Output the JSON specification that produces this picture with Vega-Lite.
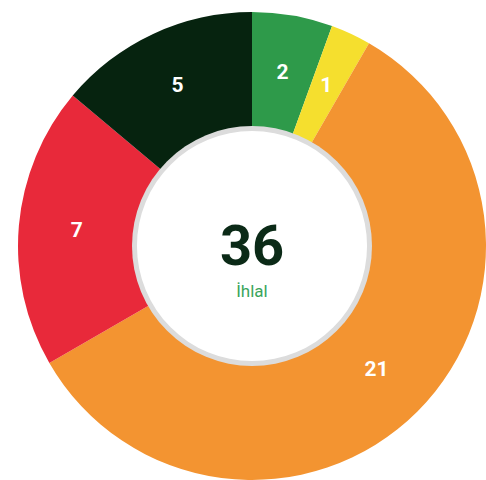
{
  "$schema": "https://vega.github.io/schema/vega-lite/v6.json",
  "width": 486,
  "height": 480,
  "autosize": {"type": "fit", "contains": "padding"},
  "padding": {"left": 18, "right": 0, "top": 12, "bottom": 0},
  "background": "white",
  "view": {"stroke": null},
  "layer": [
    {
      "data": {"values": [
        {"idx": 1, "cat": "A", "value": 2},
        {"idx": 2, "cat": "B", "value": 1},
        {"idx": 3, "cat": "C", "value": 21},
        {"idx": 4, "cat": "D", "value": 7},
        {"idx": 5, "cat": "E", "value": 5}
      ]},
      "encoding": {
        "theta": {"field": "value", "type": "quantitative", "stack": true},
        "order": {"field": "idx", "type": "quantitative"}
      },
      "layer": [
        {
          "mark": {"type": "arc", "outerRadius": 234, "innerRadius": 110},
          "encoding": {
            "color": {"field": "cat", "type": "nominal", "legend": null,
              "scale": {"domain": ["A", "B", "C", "D", "E"], "range": ["#2e9a4a", "#f5df2e", "#f39431", "#e8293a", "#06230f"]}}
          }
        },
        {
          "mark": {"type": "text", "radius": 176, "font": "Roboto", "fontWeight": "bold", "fontSize": 21, "fill": "white"},
          "encoding": {"text": {"field": "value", "type": "quantitative"}}
        }
      ]
    },
    {
      "data": {"values": [{"ring": 1}]},
      "encoding": {"theta": {"field": "ring", "type": "quantitative"}},
      "layer": [
        {"mark": {"type": "arc", "outerRadius": 120, "innerRadius": 0, "fill": "#dcdcdc"}},
        {"mark": {"type": "arc", "outerRadius": 115, "innerRadius": 0, "fill": "white"}},
        {"mark": {"type": "text", "text": "36", "font": "Roboto", "fontWeight": "bold", "fontSize": 56, "fill": "#0b2a17", "dy": 19, "baseline": "alphabetic"}},
        {"mark": {"type": "text", "text": "İhlal", "font": "Roboto", "fontSize": 17, "fill": "#3aa55b", "dy": 51, "baseline": "alphabetic"}}
      ]
    }
  ],
  "resolve": {"scale": {"theta": "independent"}}
}
